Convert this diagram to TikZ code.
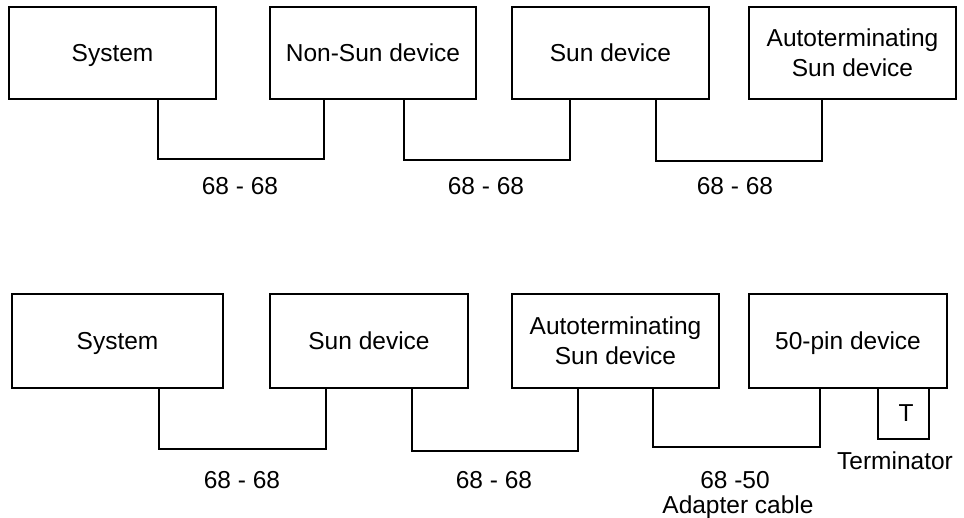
\documentclass[tikz,border=0pt]{standalone}
\usepackage{fontspec}
\setmainfont{Liberation Sans}
\begin{document}
\begin{tikzpicture}[x=1pt,y=-1pt,line width=1.4pt,
  box/.style={draw, rectangle, inner sep=0pt, minimum height=92pt,
    font=\fontsize{24.5}{30}\selectfont, align=center},
  onebox/.style={box, text height=17pt, text depth=0pt},
  lbl/.style={font=\fontsize{24.5}{30}\selectfont, anchor=base, inner sep=0pt},
  cable/.style={draw, line width=1.4pt}]
\useasboundingbox (0,0) rectangle (964,518);
% top row
\node[onebox, minimum width=207pt] (a1) at (112.5,53) {System};
\node[onebox, minimum width=206pt] (a2) at (373,53) {Non-Sun device};
\node[onebox, minimum width=197pt] (a3) at (610.5,53) {Sun device};
\node[box, minimum width=207pt] (a4) at (852.5,53) {Autoterminating\\Sun device};
\draw[cable] ([xshift=45.5pt]a1.south) |- ([xshift=-49pt]a2.south |- 0,159) -- ([xshift=-49pt]a2.south);
\draw[cable] ([xshift=31pt]a2.south) |- ([xshift=-40.5pt]a3.south |- 0,160) -- ([xshift=-40.5pt]a3.south);
\draw[cable] ([xshift=45.5pt]a3.south) |- ([xshift=-30.5pt]a4.south |- 0,161) -- ([xshift=-30.5pt]a4.south);
\node[lbl] (l1) at (240,195) {68 - 68};
\node[lbl] (l2) at (486,195) {68 - 68};
\node[lbl] (l3) at (735,195) {68 - 68};
% bottom row
\node[onebox, minimum width=211pt, minimum height=94pt] (b1) at (117.5,341) {System};
\node[onebox, minimum width=198pt, minimum height=94pt] (b2) at (369,341) {Sun device};
\node[box, minimum width=207pt, minimum height=94pt] (b3) at (615.5,341) {Autoterminating\\Sun device};
\node[onebox, minimum width=198pt, minimum height=94pt] (b4) at (848,341) {50-pin device};
\node[draw, rectangle, inner sep=0pt, minimum width=51pt, minimum height=51pt,
  font=\fontsize{24.5}{30}\selectfont, text height=17pt, text depth=0pt] (t) at (903.5,413.5) {\hspace*{5pt}T};
\draw[cable] ([xshift=41.5pt]b1.south) |- ([xshift=-43pt]b2.south |- 0,449) -- ([xshift=-43pt]b2.south);
\draw[cable] ([xshift=43pt]b2.south) |- ([xshift=-37.5pt]b3.south |- 0,451) -- ([xshift=-37.5pt]b3.south);
\draw[cable] ([xshift=37.5pt]b3.south) |- ([xshift=-28pt]b4.south |- 0,447) -- ([xshift=-28pt]b4.south);
\node[lbl] (m1) at (242,488) {68 - 68};
\node[lbl] (m2) at (494,488) {68 - 68};
\node[lbl] (m3) at (735,488) {68 -50};
\node[lbl] (m4) at (738,513) {Adapter cable};
\node[lbl] (m5) at (895,469) {Terminator};
\end{tikzpicture}
\end{document}
